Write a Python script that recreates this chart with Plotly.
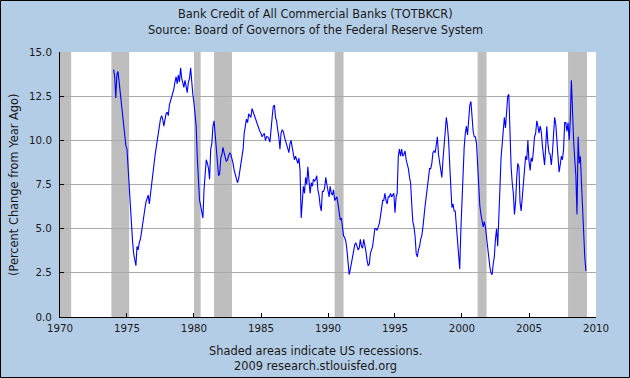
import pandas as pd
import plotly.graph_objects as go

# ---------------- data (monthly, % change from year ago) ----------------
start_month = "1974-01-01"

values_1970s = [
    14.0, 13.6, 12.4, 13.7, 13.9, 13.3, 12.8, 12.1, 11.3, 10.7, 10.1, 9.7,   # 1974
    9.5, 8.4, 7.6, 6.2, 5.0, 4.3, 3.6, 3.2, 2.9, 4.0, 3.8, 4.2,             # 1975
    4.4, 4.8, 5.3, 5.6, 6.1, 6.5, 6.7, 6.9, 6.4, 7.0, 7.6, 8.0,             # 1976
    8.7, 9.1, 9.5, 10.0, 10.4, 10.8, 11.2, 11.4, 11.2, 10.8, 11.3, 11.5,    # 1977
    11.6, 11.4, 12.0, 12.2, 12.5, 12.7, 12.9, 13.3, 13.6, 13.2, 13.7, 13.3, # 1978
    14.1, 13.5, 13.2, 13.0, 13.4, 12.9, 12.7, 13.3, 13.5, 14.1, 13.0, 12.6, # 1979
]
values_1980s = [
    12.1, 11.5, 10.8, 9.0, 7.6, 6.6, 6.3, 6.0, 5.6, 7.2, 8.5, 8.9,          # 1980
    8.7, 8.4, 7.8, 9.5, 9.8, 10.8, 11.1, 10.4, 9.7, 9.0, 8.0, 8.1,          # 1981
    9.0, 9.2, 9.6, 9.3, 9.0, 8.8, 8.9, 9.1, 9.3, 9.2, 9.0, 8.7,             # 1982
    8.3, 8.1, 7.9, 7.6, 7.8, 8.3, 8.6, 9.1, 9.5, 10.4, 11.0, 11.2,          # 1983
    11.0, 11.5, 11.4, 11.3, 11.8, 11.6, 11.4, 11.2, 11.0, 10.9, 10.6, 10.5, # 1984
    10.4, 10.2, 10.3, 10.4, 10.0, 10.2, 10.2, 10.1, 9.9, 10.8, 11.3, 11.9,  # 1985
    12.0, 11.3, 11.1, 10.6, 10.2, 9.5, 10.4, 10.6, 10.5, 10.2, 10.0, 9.8,   # 1986
    9.5, 9.3, 9.8, 10.0, 9.6, 9.3, 8.9, 9.1, 8.9, 8.7, 9.0, 8.3,            # 1987
    5.6, 6.6, 7.4, 7.0, 7.9, 7.5, 8.5, 7.7, 7.0, 7.6, 7.4, 7.8,             # 1988
    7.7, 7.8, 8.0, 7.2, 6.9, 6.3, 6.0, 7.1, 7.1, 7.3, 7.9, 7.5,             # 1989
]
values_1990s = [
    7.2, 6.8, 7.4, 7.0, 6.9, 7.2, 6.6, 6.7, 6.8, 6.4, 5.8, 5.5,             # 1990
    5.6, 5.1, 4.6, 4.5, 4.3, 3.8, 3.2, 2.4, 2.7, 3.1, 3.4, 3.8,             # 1991
    4.1, 4.2, 4.0, 3.8, 3.9, 4.4, 4.0, 3.9, 4.4, 4.1, 3.7, 3.2,             # 1992
    2.9, 3.0, 3.6, 3.8, 4.0, 4.5, 5.0, 5.0, 4.9, 5.1, 5.3, 5.7,             # 1993
    6.2, 6.6, 6.6, 7.0, 6.6, 6.4, 6.8, 6.8, 7.0, 6.8, 6.9, 7.0,             # 1994
    5.9, 6.8, 7.0, 9.1, 9.5, 9.1, 9.5, 9.1, 9.2, 9.4, 8.9, 8.7,             # 1995
    8.4, 7.9, 7.6, 6.4, 5.4, 5.1, 4.6, 3.6, 3.4, 3.8, 4.0, 4.4,             # 1996
    4.6, 5.1, 5.8, 6.3, 6.8, 7.4, 8.1, 8.4, 8.4, 8.7, 9.3, 9.4,             # 1997
    9.3, 9.8, 10.2, 9.2, 8.7, 8.5, 7.9, 8.9, 9.7, 10.9, 11.3, 10.8,         # 1998
    10.0, 8.6, 7.0, 6.2, 6.4, 6.0, 6.0, 5.1, 4.5, 3.8, 2.7, 4.9,            # 1999
]
values_2000s = [
    6.8, 8.9, 9.6, 10.4, 10.8, 10.3, 11.5, 12.0, 12.2, 11.0, 10.5, 10.2,    # 2000
    10.2, 9.8, 8.7, 7.4, 6.3, 5.8, 5.3, 5.1, 5.4, 5.1, 4.5, 3.8,            # 2001
    3.1, 2.8, 2.5, 2.4, 3.0, 3.4, 4.4, 5.0, 4.0, 6.4, 7.3, 9.0,             # 2002
    9.8, 10.8, 11.3, 10.7, 11.9, 12.5, 12.6, 9.8, 8.5, 7.6, 7.0, 5.8,       # 2003
    6.5, 7.9, 8.7, 8.5, 6.5, 6.0, 6.7, 7.5, 8.3, 9.1, 8.9, 10.0,            # 2004
    8.8, 8.3, 9.0, 8.8, 9.4, 10.2, 10.4, 11.1, 10.8, 10.4, 10.8, 10.5,      # 2005
    9.7, 9.1, 8.6, 9.6, 10.8, 9.8, 9.3, 9.2, 8.6, 9.3, 10.8, 11.3,          # 2006
    10.9, 10.0, 9.0, 8.2, 8.6, 9.1, 8.9, 9.5, 11.0, 11.0, 10.5, 11.0,       # 2007
    10.0, 11.2, 13.4, 11.3, 10.0, 8.9, 8.0, 5.8, 10.2, 8.7, 9.1, 7.6,       # 2008
    5.9, 4.5, 3.4, 2.6,                                                     # 2009
]

recession_starts = ["1969-12-01", "1973-11-01", "1980-01-01", "1981-07-01",
                    "1990-07-01", "2001-03-01", "2007-12-01"]
recession_ends = ["1970-11-01", "1975-03-01", "1980-07-01", "1982-11-01",
                  "1991-03-01", "2001-11-01", "2009-05-01"]

x_tick_years = [1970, 1975, 1980, 1985, 1990, 1995, 2000, 2005, 2010]
y_tick_values = [0.0, 2.5, 5.0, 7.5, 10.0, 12.5, 15.0]

title_lines = ["Bank Credit of All Commercial Banks (TOTBKCR)",
               "Source: Board of Governors of the Federal Reserve System"]
footer_lines = ["Shaded areas indicate US recessions.",
                "2009 research.stlouisfed.org"]
y_title = "(Percent Change from Year Ago)"

# ---------------- figure ----------------
values = values_1970s + values_1980s + values_1990s + values_2000s
dates = pd.date_range(start_month, periods=len(values), freq="MS")

W, H = 630, 378
ML, MR, MT, MB = 60, 34, 52, 61
PW, PH = W - ML - MR, H - MT - MB

FONT = "DejaVu Sans"
TXT = "#1a1a1a"
BG = "#B4CDE6"
TEXT_SIZE = 11.4
TICK_SIZE = 10.3

fig = go.Figure()
fig.add_trace(go.Scatter(x=dates, y=values, mode="lines",
                         line=dict(color="#0000FF", width=1.1),
                         hoverinfo="skip", showlegend=False))

shapes = []
for s, e in zip(recession_starts, recession_ends):
    shapes.append(dict(type="rect", xref="x", yref="paper", x0=s, x1=e, y0=0, y1=1,
                       fillcolor="#BEBEBE", line=dict(width=0), layer="between"))


def px_to_paper_x(px):
    return (px - ML) / PW


def px_to_paper_y(py):
    return (H - MB - py) / PH


# outer black border of the image
shapes.append(dict(type="rect", xref="paper", yref="paper",
                   x0=px_to_paper_x(0.5), x1=px_to_paper_x(W - 0.5),
                   y0=px_to_paper_y(H - 0.5), y1=px_to_paper_y(0.5),
                   line=dict(color="black", width=1), fillcolor="rgba(0,0,0,0)",
                   layer="above"))

annotations = []
cx = px_to_paper_x(W / 2)
for text, py in [(title_lines[0], 14), (title_lines[1], 30),
                 (footer_lines[0], 351), (footer_lines[1], 366)]:
    annotations.append(dict(text=text, xref="paper", yref="paper",
                            x=cx, y=px_to_paper_y(py), xanchor="center", yanchor="middle",
                            showarrow=False,
                            font=dict(family=FONT, size=TEXT_SIZE, color=TXT)))
annotations.append(dict(text=y_title, xref="paper", yref="paper",
                        x=px_to_paper_x(14), y=px_to_paper_y(185),
                        xanchor="center", yanchor="middle", textangle=-90, showarrow=False,
                        font=dict(family=FONT, size=11.4, color=TXT)))

fig.update_layout(
    width=W, height=H,
    margin=dict(l=ML, r=MR, t=MT, b=MB, pad=0),
    paper_bgcolor=BG, plot_bgcolor="white",
    font=dict(family=FONT, size=11, color=TXT),
    shapes=shapes, annotations=annotations,
    xaxis=dict(
        type="date",
        range=["1970-01-01", "2010-01-01"],
        tickvals=[f"{y}-01-01" for y in x_tick_years],
        ticktext=[str(y) for y in x_tick_years],
        ticks="inside", ticklen=4, tickcolor="black",
        showline=True, linecolor="black", linewidth=1,
        showgrid=False, zeroline=False, ticklabelstandoff=2,
        tickfont=dict(family=FONT, size=TICK_SIZE, color=TXT),
    ),
    yaxis=dict(
        range=[0, 15],
        tickvals=y_tick_values,
        ticktext=[f"{v:.1f}" for v in y_tick_values],
        ticks="inside", ticklen=4, tickcolor="black",
        showline=True, linecolor="black", linewidth=1,
        showgrid=True, gridcolor="#AAAAAA", gridwidth=1,
        zeroline=False, ticklabelstandoff=5,
        tickfont=dict(family=FONT, size=TICK_SIZE, color=TXT),
    ),
)

fig.write_html("out.html",
               config={"displayModeBar": False},
               post_script="document.body.style.margin='0';document.body.style.padding='0';")
